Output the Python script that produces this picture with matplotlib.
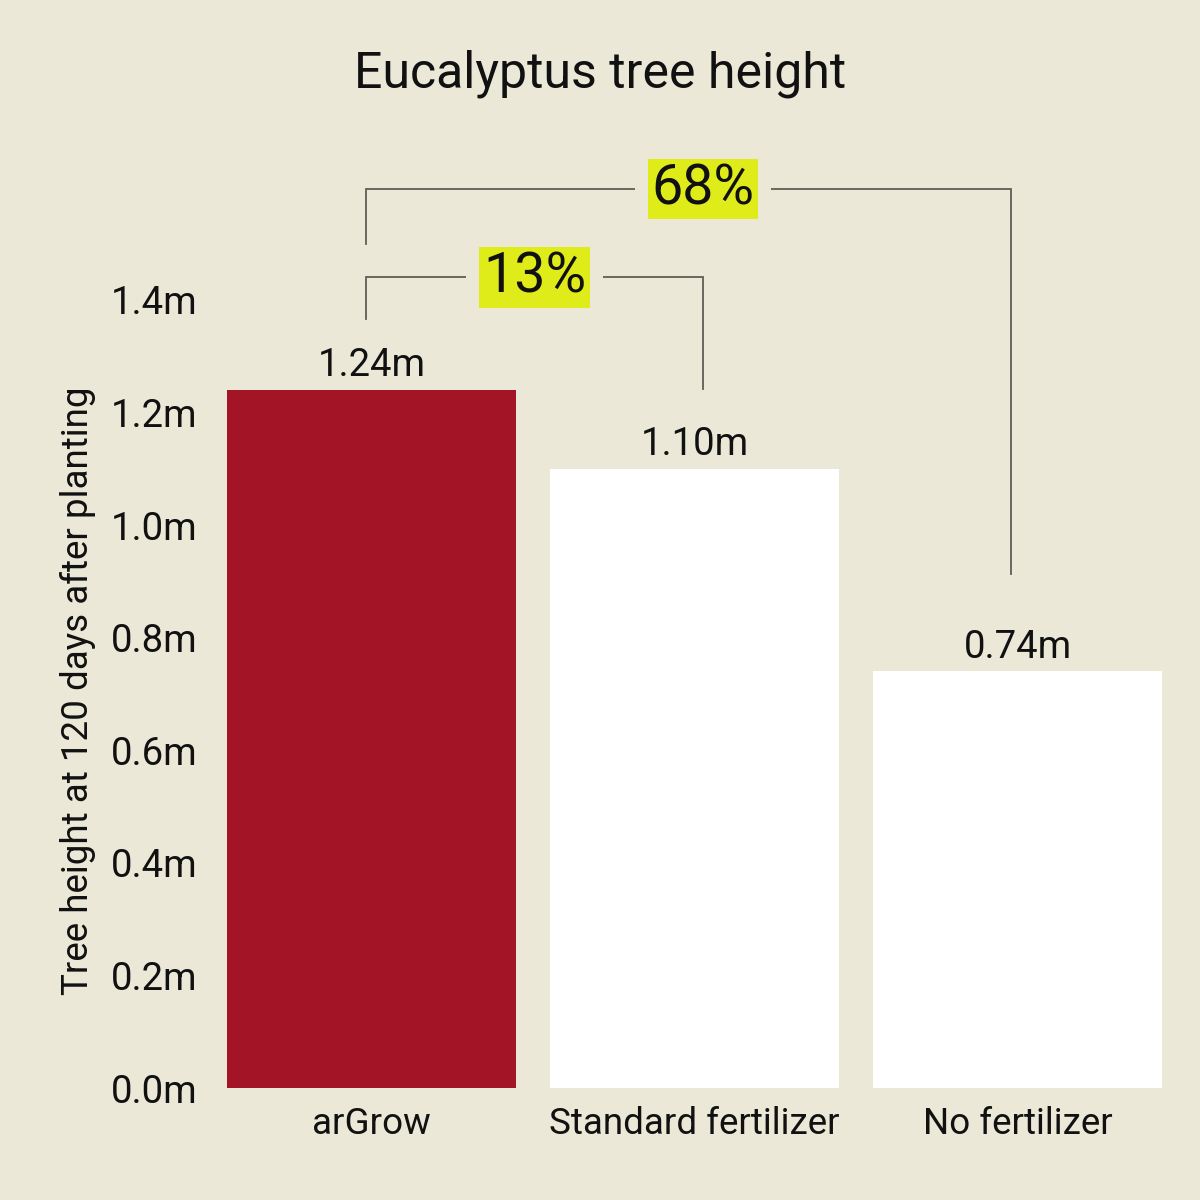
import matplotlib
matplotlib.use("Agg")
import matplotlib.pyplot as plt

# data
categories = ["arGrow", "Standard fertilizer", "No fertilizer"]
heights = [1.24, 1.10, 0.74]
y_ticks = [0.0, 0.2, 0.4, 0.6, 0.8, 1.0, 1.2, 1.4]

title = "Eucalyptus tree height"
y_label = "Tree height at 120 days after planting"

BG = "#EBE8D8"
RED = "#A31426"
YELLOW = "#E0EB1A"
LINE = "#5f5d55"
INK = "#111111"
FONT = ["Roboto", "DejaVu Sans"]

fig = plt.figure(figsize=(12, 12), dpi=100, facecolor=BG)
ax = fig.add_axes([0.175, 0.09333, 0.8075, 0.7741])
ax.set_facecolor(BG)

x = list(range(len(categories)))
colors = [RED] + ["white"] * (len(categories) - 1)
ax.bar(x, heights, width=0.895, color=colors, zorder=2)

ax.set_xlim(-0.5, 2.5)
ax.set_ylim(0, 1.65)
for s in ax.spines.values():
    s.set_visible(False)

ax.set_yticks(y_ticks)
ax.set_yticklabels([f"{t:.1f}m" for t in y_ticks], family=FONT, fontsize=27.5, color=INK)
ax.set_xticks(x)
ax.set_xticklabels(categories, family=FONT, fontsize=26.5, color=INK)
ax.tick_params(axis="y", length=0, pad=9)
ax.tick_params(axis="x", length=0, pad=13)

# value labels above bars
for xi, h in zip(x, heights):
    ax.annotate(f"{h:.2f}m", (xi, h), xytext=(0, 4), textcoords="offset points",
                ha="center", va="bottom", family=FONT, fontsize=27.5, color=INK)

# comparison brackets
def bracket(x0, x1, y, y0_end, y1_end, xl, label):
    ax.plot([x0, x0, x1, x1], [y0_end, y, y, y1_end], color=LINE, lw=1.3,
            clip_on=False, zorder=3, solid_joinstyle="miter")
    kw = dict(ha="center", va="center", family=FONT, fontsize=40)
    ax.text(xl, y, label, color=BG, zorder=4,
            bbox=dict(boxstyle="square,pad=0.3", fc=BG, ec="none"), **kw)
    ax.text(xl, y, label, color=INK, zorder=5,
            bbox=dict(boxstyle="square,pad=0.07", fc=YELLOW, ec="none"), **kw)

p13 = round((heights[0] / heights[1] - 1) * 100)
p68 = round((heights[0] / heights[2] - 1) * 100)

xl0 = x[0] - 0.017
xr1 = x[1] + 0.026
xr2 = x[2] - 0.02
bracket(xl0, xr1, 1.44, heights[0] + 0.126, heights[1] + 0.142,
        (xl0 + xr1) / 2, f"{p13}%")
bracket(xl0, xr2, 1.597, 1.499, heights[2] + 0.173, xr1, f"{p68}%")

fig.text(0.5, 1 - 88 / 1200, title, ha="center", va="baseline",
         family=FONT, fontsize=36, color=INK)
fig.text(78 / 1200, 1 - 691 / 1200, y_label, ha="center", va="center",
         rotation=90, family=FONT, fontsize=26.5, color=INK)

fig.savefig("out.png", dpi=100, facecolor=BG)
